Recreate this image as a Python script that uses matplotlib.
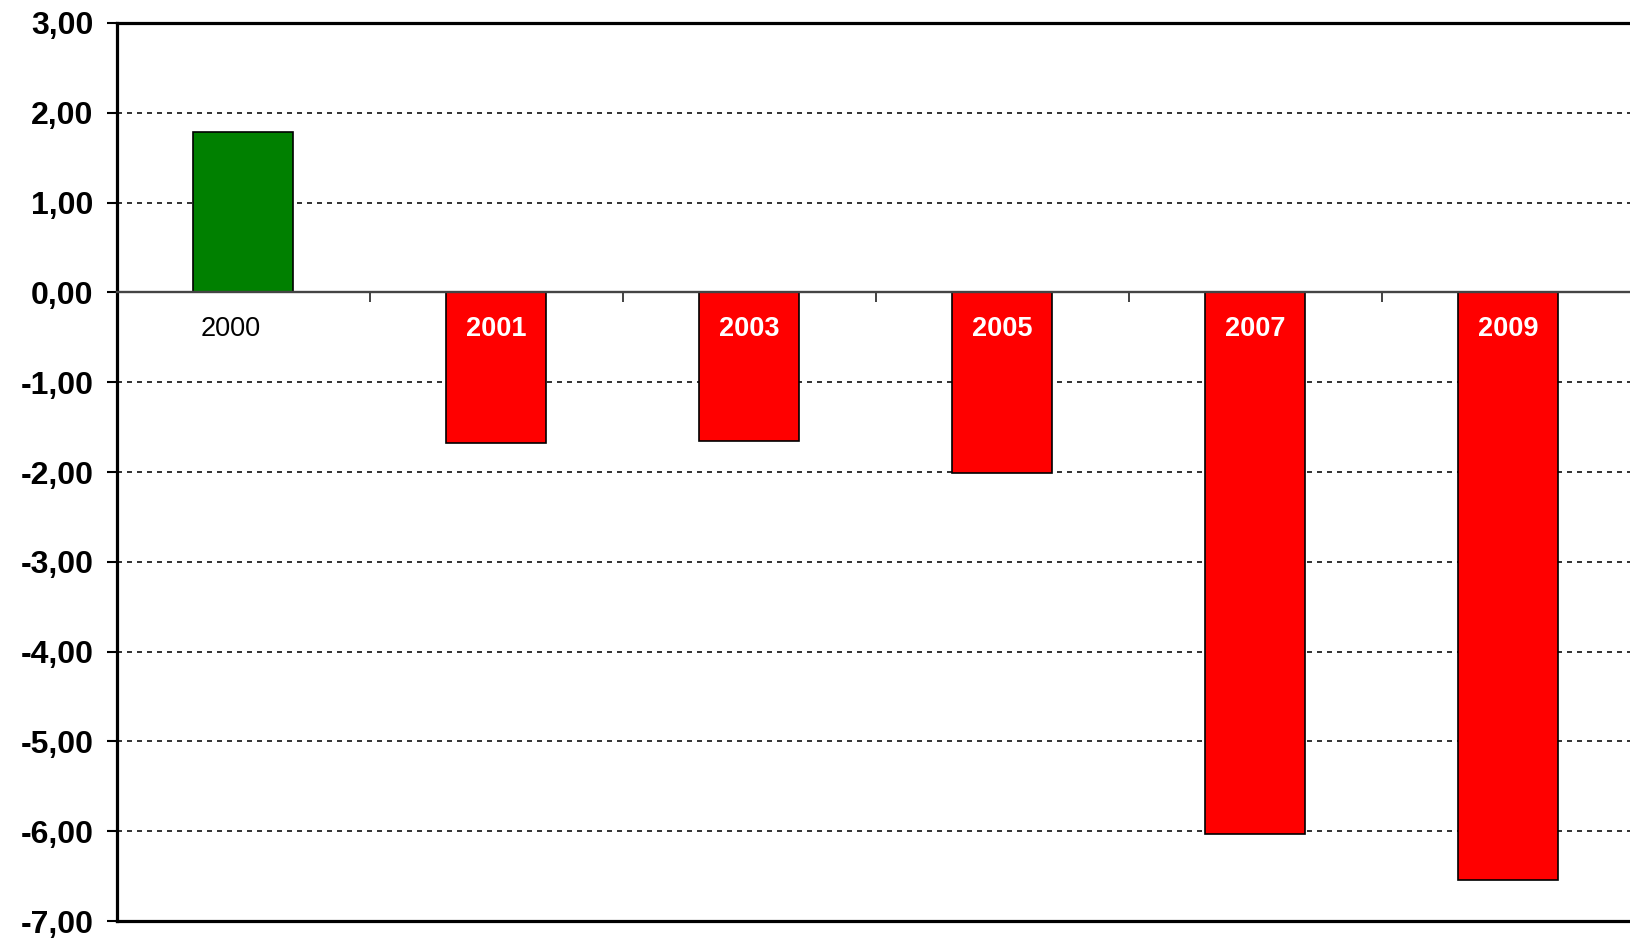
"""Bar chart of yearly values, positive in green, negative in red."""
import matplotlib
import matplotlib.pyplot as plt
import numpy as np
from matplotlib.ticker import FuncFormatter

matplotlib.use("Agg")

# data
years = ["2000", "2001", "2003", "2005", "2007", "2009"]
values = [1.79, -1.68, -1.66, -2.01, -6.03, -6.54]
y_ticks = [3, 2, 1, 0, -1, -2, -3, -4, -5, -6, -7]
grid_levels = [2, 1, -1, -2, -3, -4, -5, -6]

plt.rcParams["font.family"] = ["Liberation Sans", "DejaVu Sans"]
plt.rcParams["lines.scale_dashes"] = False

fig = plt.figure(figsize=(16.31, 9.38), dpi=100)
ax = fig.add_axes([0.0717, 0.0181, 0.9307, 0.9574])

x = np.arange(len(years))
colors = ["#008000" if v >= 0 else "#FF0000" for v in values]
ax.bar(x, values, width=0.395, color=colors, edgecolor="black",
       linewidth=1.2, zorder=3)

ax.set_xlim(-0.5, len(years) - 0.5)
ax.set_ylim(min(y_ticks), max(y_ticks))

# dashed grid (not at frame or zero line)
for g in grid_levels:
    ax.axhline(g, color="#222222", linewidth=1.3, linestyle=(0, (3.6, 3.6)),
               zorder=1)

# y axis
ax.set_yticks(y_ticks)
ax.yaxis.set_major_formatter(FuncFormatter(lambda v, _: f"{v:.2f}".replace(".", ",")))
ax.tick_params(axis="y", direction="out", length=7, width=1.5, pad=10,
               labelsize=23)
for lab in ax.get_yticklabels():
    lab.set_fontweight("bold")

# x axis sits on the zero line, ticks between categories
ax.spines["bottom"].set_position(("data", 0))
ax.spines["bottom"].set_color("#444444")
ax.spines["bottom"].set_linewidth(1.7)
ax.spines["bottom"].set_zorder(4)
ax.set_xticks(np.arange(-0.5, len(years) + 0.5, 1))
ax.set_xticklabels([])
ax.tick_params(axis="x", direction="out", length=7, width=1.2, color="#222222")

for side in ("left", "top"):
    ax.spines[side].set_linewidth(2.3)
    ax.spines[side].set_color("black")
ax.spines["right"].set_visible(False)
ax.axhline(min(y_ticks), color="black", linewidth=2.3, clip_on=False, zorder=5)

# category labels under the zero line
for xi, yr, v in zip(x, years, values):
    if v >= 0:
        ax.annotate(yr, xy=(xi, 0), xytext=(-9, -26), textcoords="offset points",
                    ha="center", va="center", fontsize=19.5, color="black",
                    zorder=6)
    else:
        ax.annotate(yr, xy=(xi, 0), xytext=(0, -26), textcoords="offset points",
                    ha="center", va="center", fontsize=19.5, color="white",
                    fontweight="bold", zorder=6)

fig.savefig("out.png", dpi=100)
plt.close(fig)
